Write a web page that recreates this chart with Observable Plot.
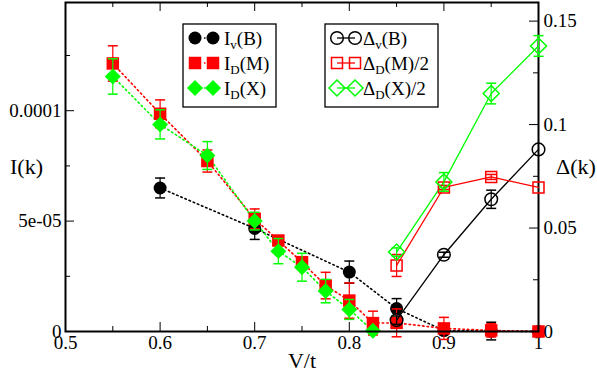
<!DOCTYPE html>
<html><head><meta charset="utf-8">
<script src="https://cdn.jsdelivr.net/npm/d3@7"></script>
<script src="https://cdn.jsdelivr.net/npm/@observablehq/plot@0.6"></script>
<style>
body{margin:0;background:#fff}
#wrap{position:relative;width:597px;height:379px;background:#fff}
#wrap svg{position:absolute;left:0;top:0;background:transparent}
#wrap svg, #wrap svg g, #wrap svg text{font-family:'Liberation Serif','Times New Roman',serif !important}
</style>
</head><body><div id="wrap"></div>
<script>
// ---------- data ----------
const xMajor = [0.5, 0.6, 0.7, 0.8, 0.9, 1.0];
const xMinor = [0.55, 0.65, 0.75, 0.85, 0.95];
const iMajor = [0, 5e-5, 1e-4];
const iMinor = [2.5e-5, 7.5e-5, 1.25e-4];
const iLabels = ["0", "5e-05", "0.0001"];
const dMajor = [0, 0.05, 0.1, 0.15];
const dMinor = [0.025, 0.075, 0.125];
const dLabels = ["0", "0.05", "0.1", "0.15"];

// I_v(B)
const vB_x   = [0.6, 0.7, 0.8, 0.85, 0.9, 0.95, 1.0];
const vB_I   = [6.5e-5, 4.67e-5, 2.69e-5, 1.04e-5, 0.4e-6, 0.2e-6, 0];
const vB_err = [4.5e-6, 5e-6, 5e-6, 4.5e-6, 0, 4e-6, 0];
// I_D(M)
const DM_x   = [0.55, 0.6, 0.65, 0.7, 0.725, 0.75, 0.775, 0.8, 0.825, 0.85, 0.9, 0.95, 1.0];
const DM_I   = [1.214e-4, 9.86e-5, 7.72e-5, 5.1e-5, 4.12e-5, 3.14e-5, 2.08e-5, 1.4e-5, 3.8e-6, 3.9e-6, 1.4e-6, 0.5e-6, 0];
const DM_err = [8e-6, 6.3e-6, 5e-6, 4.5e-6, 2e-6, 2e-6, 6e-6, 8e-6, 5.4e-6, 6.3e-6, 5e-6, 3e-6, 0];
// I_D(X)
const DX_x   = [0.55, 0.6, 0.65, 0.7, 0.725, 0.75, 0.775, 0.8, 0.825];
const DX_I   = [1.155e-4, 9.38e-5, 7.97e-5, 5.0e-5, 3.64e-5, 2.91e-5, 1.83e-5, 1.0e-5, 0.3e-6];
const DX_err = [8e-6, 6.6e-6, 6.3e-6, 4e-6, 5.7e-6, 6.3e-6, 5.3e-6, 4.5e-6, 0];
// Delta series
const dl_x    = [0.85, 0.9, 0.95, 1.0];
const dB      = [0.0055, 0.0371, 0.0639, 0.088];
const dB_err  = [0.002, 0.0012, 0.0044, 0];
const dM      = [0.0319, 0.0696, 0.0747, 0.0696];
const dM_err  = [0.0053, 0.001, 0.0012, 0];
const dX      = [0.0384, 0.0723, 0.115, 0.138];
const dX_err  = [0.002, 0.0045, 0.005, 0.005];

// ---------- layout ----------
const W = 597, H = 379, mL = 65, mR = 59, mT = 2, mB = 48;
const innerW = W - mL - mR, innerH = H - mT - mB;
const FONT = "'Liberation Serif','Times New Roman',serif";
const RED = "#ff0000", GREEN = "#00ff00", BLACK = "#000000";

const rows = (xs, ys, es) => xs.map((x, i) => ({x, y: ys[i], e: es[i]}));
const sB = rows(vB_x, vB_I, vB_err);
const sM = rows(DM_x, DM_I, DM_err);
const sX = rows(DX_x, DX_I, DX_err);
const tB = rows(dl_x, dB, dB_err);
const tM = rows(dl_x, dM, dM_err);
const tX = rows(dl_x, dX, dX_err);

const cap = {draw(ctx) { ctx.moveTo(-5, 0); ctx.lineTo(5, 0); }};

function errMarks(data, color) {
  const d = data.filter(r => r.e > 0);
  return [
    Plot.ruleX(d, {x: "x", y1: r => r.y - r.e, y2: r => r.y + r.e, stroke: color, strokeWidth: 1.2}),
    Plot.dot(d, {x: "x", y: r => r.y + r.e, symbol: cap, r: 3, stroke: color, fill: "none", strokeWidth: 1.5}),
    Plot.dot(d, {x: "x", y: r => r.y - r.e, symbol: cap, r: 3, stroke: color, fill: "none", strokeWidth: 1.5})
  ];
}
const dotted = {strokeDasharray: "1.5,3", strokeWidth: 1.6};

const baseStyle = {fontFamily: FONT, fontSize: "19px", background: "transparent", color: "black", overflow: "visible"};

const p1 = Plot.plot({
  width: W, height: H, marginLeft: mL, marginRight: mR, marginTop: mT, marginBottom: mB,
  style: baseStyle,
  x: {domain: [0.5, 1]},
  y: {domain: [0, 0.000149]},
  marks: [
    // ticks
    Plot.ruleX(xMajor, {insetTop: innerH - 9, stroke: BLACK}),
    Plot.ruleX(xMinor, {insetTop: innerH - 5, stroke: BLACK}),
    Plot.ruleX(xMajor, {insetBottom: innerH - 9, stroke: BLACK}),
    Plot.ruleX(xMinor, {insetBottom: innerH - 5, stroke: BLACK}),
    Plot.ruleY(iMajor, {insetRight: innerW - 9, stroke: BLACK}),
    Plot.ruleY(iMinor, {insetRight: innerW - 5, stroke: BLACK}),
    Plot.axisX({ticks: xMajor, tickSize: 0, tickPadding: 4, fontSize: 19, fontFamily: FONT,
      tickFormat: d => d === 1 ? "1" : d.toFixed(1), label: null}),
    Plot.axisY({ticks: iMajor, tickSize: 0, tickPadding: 4, fontSize: 19, fontFamily: FONT,
      tickFormat: d => iLabels[iMajor.indexOf(d)], label: null}),
    Plot.text(["I(k)"], {text: d => d, frameAnchor: "left", textAnchor: "middle", dx: -39, fontSize: 22, fontFamily: FONT}),
    Plot.text(["V/t"], {text: d => d, frameAnchor: "bottom", textAnchor: "middle", lineAnchor: "middle", dy: 29, fontSize: 22, fontFamily: FONT}),
    // dotted lines
    Plot.line(sB, {x: "x", y: "y", stroke: BLACK, ...dotted}),
    Plot.line(sM, {x: "x", y: "y", stroke: RED, ...dotted}),
    Plot.line(sX, {x: "x", y: "y", stroke: GREEN, ...dotted}),
    // black
    ...errMarks(sB, BLACK),
    Plot.dot(sB, {x: "x", y: "y", r: 6.5, fill: BLACK, stroke: "none"}),
    // red
    ...errMarks(sM, RED),
    Plot.dot(sM, {x: "x", y: "y", symbol: "square", r: 7.05, fill: RED, stroke: "none"}),
    // green
    ...errMarks(sX, GREEN),
    Plot.dot(sX, {x: "x", y: "y", symbol: "diamond2", r: 7.2, fill: GREEN, stroke: "none"}),
    Plot.frame({stroke: BLACK, strokeWidth: 2})
  ]
});

const p2 = Plot.plot({
  width: W, height: H, marginLeft: mL, marginRight: mR, marginTop: mT, marginBottom: mB,
  style: baseStyle,
  x: {domain: [0.5, 1], axis: null},
  y: {domain: [0, 0.159]},
  marks: [
    Plot.ruleY(dMajor, {insetLeft: innerW - 9, stroke: BLACK}),
    Plot.ruleY(dMinor, {insetLeft: innerW - 5, stroke: BLACK}),
    Plot.axisY({anchor: "right", ticks: dMajor, tickSize: 0, tickPadding: 5, fontSize: 19, fontFamily: FONT,
      tickFormat: d => dLabels[dMajor.indexOf(d)], label: null}),
    Plot.text(["Δ(k)"], {text: d => d, frameAnchor: "right", textAnchor: "middle", dx: 37.5, fontSize: 22, fontFamily: FONT}),
    Plot.line(tB, {x: "x", y: "y", stroke: BLACK, strokeWidth: 1.3}),
    Plot.line(tM, {x: "x", y: "y", stroke: RED, strokeWidth: 1.3}),
    Plot.line(tX, {x: "x", y: "y", stroke: GREEN, strokeWidth: 1.3}),
    ...errMarks(tB, BLACK),
    Plot.dot(tB, {x: "x", y: "y", r: 6.3, fill: "none", stroke: BLACK, strokeWidth: 1.5}),
    ...errMarks(tM, RED),
    Plot.dot(tM, {x: "x", y: "y", symbol: "square", r: 6.2, fill: "none", stroke: RED, strokeWidth: 1.5}),
    ...errMarks(tX, GREEN),
    Plot.dot(tX, {x: "x", y: "y", symbol: "diamond2", r: 7.2, fill: "none", stroke: GREEN, strokeWidth: 1.5})
  ]
});

const wrap = document.getElementById("wrap");
wrap.appendChild(p1);
wrap.appendChild(p2);

// ---------- legends ----------
const legI = [
  {sub: "v", rest: "(B)", color: BLACK, sym: d3.symbolCircle, r: 6.5},
  {sub: "D", rest: "(M)", color: RED, sym: d3.symbolSquare, r: 7.05},
  {sub: "D", rest: "(X)", color: GREEN, sym: d3.symbolDiamond2, r: 7.2}
];
const legD = [
  {sub: "v", rest: "(B)", color: BLACK, sym: d3.symbolCircle, r: 6.3},
  {sub: "D", rest: "(M)/2", color: RED, sym: d3.symbolSquare, r: 6.2},
  {sub: "D", rest: "(X)/2", color: GREEN, sym: d3.symbolDiamond2, r: 7.2}
];
const svg = d3.select(wrap).append("svg").attr("width", W).attr("height", H)
  .style("font-family", FONT);

function legend(items, x0, w, head, sx1, sx2, tx, filled) {
  svg.append("rect").attr("x", x0).attr("y", 24).attr("width", w).attr("height", 83)
    .attr("fill", "white").attr("stroke", "black").attr("stroke-width", 1.3);
  items.forEach((it, i) => {
    const cy = 38 + i * 25;
    const ln = svg.append("line").attr("x1", sx1).attr("x2", sx2).attr("y1", cy).attr("y2", cy)
      .attr("stroke", it.color).attr("stroke-width", filled ? 1.6 : 1.3);
    if (filled) ln.attr("stroke-dasharray", "1.5,3");
    [sx1, sx2].forEach(sx => {
      svg.append("path").attr("d", d3.symbol(it.sym, Math.PI * it.r * it.r)())
        .attr("transform", `translate(${sx},${cy})`)
        .attr("fill", filled ? it.color : "none")
        .attr("stroke", filled ? "none" : it.color).attr("stroke-width", 1.5);
    });
    const t = svg.append("text").attr("x", tx).attr("y", cy + 6.5).attr("font-size", 19);
    t.append("tspan").text(head);
    t.append("tspan").attr("font-size", 13).attr("dy", 4).text(it.sub);
    t.append("tspan").attr("dy", -4).text(it.rest);
  });
}
legend(legI, 183, 93, "I", 195, 213, 224, true);
legend(legD, 325, 113, "Δ", 337, 355, 363, false);
</script>
</body></html>
